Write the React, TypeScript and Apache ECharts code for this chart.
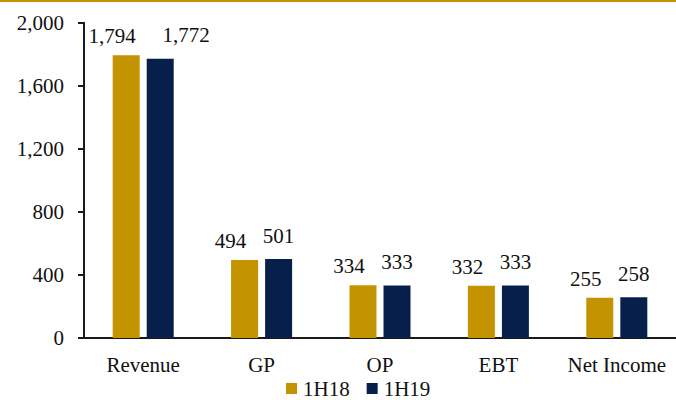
import React, { useEffect, useRef } from "react";
import * as echarts from "echarts";

const categories = ["Revenue", "GP", "OP", "EBT", "Net Income"];
const series1H18 = [1794, 494, 334, 332, 255];
const series1H19 = [1772, 501, 333, 333, 258];
const yTicks = [0, 400, 800, 1200, 1600, 2000];

const GOLD = "#C49300";
const NAVY = "#06204B";
const FONT = "Liberation Serif";

export default function App() {
  const ref = useRef<HTMLDivElement>(null);
  useEffect(() => {
    document.body.style.margin = "0";
    const chart = echarts.init(ref.current!, undefined, { renderer: "svg" });
    const labelBase = {
      show: true,
      position: "top" as const,
      fontFamily: FONT,
      fontSize: 21,
      color: "#111",
      formatter: (p: any) => Number(p.value).toLocaleString("en-US"),
    };
    chart.setOption({
      animation: false,
      backgroundColor: "#fff",
      textStyle: { fontFamily: FONT },
      graphic: [
        {
          type: "rect",
          shape: { x: 0, y: 0, width: 676, height: 2 },
          style: { fill: GOLD },
        },
      ],
      grid: { left: 84, top: 22.7, width: 598, bottom: 62 },
      legend: {
        left: 286,
        top: 378,
        padding: 0,
        itemWidth: 11,
        itemHeight: 11,
        itemGap: 17,
        icon: "rect",
        textStyle: {
          fontFamily: FONT,
          fontSize: 21,
          lineHeight: 18,
          color: "#111",
          padding: [0, 0, 0, 1],
        },
        data: ["1H18", "1H19"],
      },
      xAxis: {
        type: "category",
        data: categories,
        axisLine: { lineStyle: { color: "#1a1a1a", width: 2 } },
        axisTick: { show: false },
        axisLabel: { fontFamily: FONT, fontSize: 21, color: "#111", margin: 16, interval: 0 },
      },
      yAxis: {
        type: "value",
        min: yTicks[0],
        max: yTicks[yTicks.length - 1],
        interval: yTicks[1] - yTicks[0],
        axisLine: { show: true, lineStyle: { color: "#1a1a1a", width: 2 } },
        axisTick: { show: true, length: 6, lineStyle: { color: "#1a1a1a", width: 2 } },
        splitLine: { show: false },
        axisLabel: {
          fontFamily: FONT,
          fontSize: 21,
          color: "#111",
          margin: 20,
          formatter: (v: number) => v.toLocaleString("en-US"),
        },
      },
      series: [
        {
          name: "1H18",
          type: "bar",
          data: series1H18,
          barWidth: 27,
          barGap: "26%",
          itemStyle: { color: GOLD },
          label: { ...labelBase, distance: 8.5, offset: [-14, 0] },
        },
        {
          name: "1H19",
          type: "bar",
          data: series1H19.map((v, i) =>
            i === 0 ? { value: v, label: { offset: [26, 0] } } : v
          ),
          barWidth: 27,
          itemStyle: { color: NAVY },
          label: { ...labelBase, distance: 13 },
        },
      ],
    });
    return () => chart.dispose();
  }, []);
  return <div ref={ref} style={{ width: 676, height: 400 }} />;
}
